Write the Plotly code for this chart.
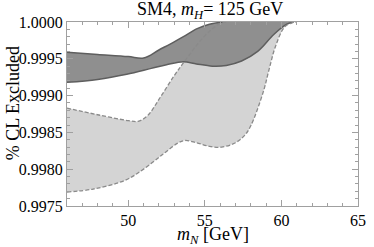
import plotly.graph_objects as go

# Data
dark_upper_x = [46, 48, 50, 51.0, 52.0, 53.0, 53.6, 54.5, 55.3, 56.2]
dark_upper_y = [0.99959, 0.99956, 0.99953, 0.99951, 0.99962, 0.99973, 0.99980, 0.99991, 0.99997, 1.0]

dark_lower_x = [46, 48, 49.9, 51.5, 52.5, 53.6, 54.45, 55.5, 56.4, 57.4, 58.45, 59.5, 60.35, 60.8]
dark_lower_y = [0.99918, 0.99922, 0.99929, 0.99937, 0.99942, 0.99946, 0.99943, 0.99940, 0.99941, 0.99947, 0.99960, 0.99983, 0.99997, 1.0]

light_upper_x = [46, 48, 50.0, 50.64, 51.27, 52.1, 53.0, 53.62, 54.9, 55.9, 56.5]
light_upper_y = [0.99883, 0.99874, 0.99866, 0.99865, 0.99873, 0.99898, 0.99927, 0.99945, 0.99979, 0.99997, 1.0]

light_lower_x = [46, 47.7, 49.8, 51.06, 52.3, 53.2, 53.7, 54.45, 55.3, 56.1, 57.0, 57.6, 58.0, 58.8, 59.2, 59.6, 60.2, 60.7, 61.0]
light_lower_y = [0.99769, 0.99773, 0.99785, 0.99801, 0.99821, 0.99835, 0.99839, 0.99836, 0.99831, 0.99830, 0.99836, 0.99846, 0.99859, 0.99904, 0.99936, 0.99966, 0.99993, 0.99999, 1.0]

x_ticks = [50, 55, 60, 65]
y_ticks = [0.9975, 0.9980, 0.9985, 0.9990, 0.9995, 1.0000]

DARK_FILL = "#8f8f8f"
DARK_EDGE = "#5e5e5e"
LIGHT_FILL = "#d4d4d4"
LIGHT_EDGE = "#8a8a8a"
FRAME = "#a0a0a0"
FONT = "Liberation Serif"

fig = go.Figure()
# light band fill
fig.add_trace(go.Scatter(x=light_lower_x, y=light_lower_y, mode="lines",
                         line=dict(width=0, shape="spline", color=LIGHT_FILL), hoverinfo="skip"))
fig.add_trace(go.Scatter(x=light_upper_x, y=light_upper_y, mode="lines", fill="tonexty",
                         fillcolor=LIGHT_FILL,
                         line=dict(width=0, shape="spline", color=LIGHT_FILL), hoverinfo="skip"))
# dark band fill
fig.add_trace(go.Scatter(x=dark_lower_x, y=dark_lower_y, mode="lines",
                         line=dict(width=0, shape="spline", color=DARK_FILL), hoverinfo="skip"))
fig.add_trace(go.Scatter(x=dark_upper_x, y=dark_upper_y, mode="lines", fill="tonexty",
                         fillcolor=DARK_FILL,
                         line=dict(width=0, shape="spline", color=DARK_FILL), hoverinfo="skip"))
# edges
for xs, ys in [(dark_lower_x, dark_lower_y), (dark_upper_x, dark_upper_y)]:
    fig.add_trace(go.Scatter(x=xs, y=ys, mode="lines",
                             line=dict(width=1.5, shape="spline", color=DARK_EDGE)))
for xs, ys in [(light_lower_x, light_lower_y), (light_upper_x, light_upper_y)]:
    fig.add_trace(go.Scatter(x=xs, y=ys, mode="lines",
                             line=dict(width=1.3, shape="spline", color=LIGHT_EDGE, dash="4px,2px")))

fig.update_layout(
    width=374, height=247,
    margin=dict(l=67, r=8, t=22, b=41),
    paper_bgcolor="white", plot_bgcolor="white",
    showlegend=False,
    font=dict(family=FONT, size=16, color="black"),
    annotations=[
        dict(text="SM4, <i>m</i><sub><i>H</i></sub>= 125 GeV", xref="paper", yref="paper",
             x=0.492, y=1.062, xanchor="center", yanchor="middle", showarrow=False,
             font=dict(family=FONT, size=18, color="black")),
        dict(text="<i>m</i><sub><i>N</i></sub> [GeV]", xref="paper", yref="paper",
             x=0.5, y=-0.158, xanchor="center", yanchor="middle", showarrow=False,
             font=dict(family=FONT, size=18, color="black")),
        dict(text="% CL Excluded", xref="paper", yref="paper", textangle=-90,
             x=-0.185, y=0.559, xanchor="center", yanchor="middle", showarrow=False,
             font=dict(family=FONT, size=18, color="black")),
    ],
)
fig.update_xaxes(
    range=[46, 65], tickvals=x_ticks, ticktext=[str(v) for v in x_ticks],
    showgrid=False, zeroline=False, showline=True, linecolor=FRAME, linewidth=1,
    mirror="ticks", ticks="inside", ticklen=6, tickcolor=FRAME,
    minor=dict(dtick=1, ticks="inside", ticklen=3, tickcolor=FRAME, showgrid=False),
    tickfont=dict(family=FONT, size=16), ticklabeloverflow="allow",
)
fig.update_yaxes(
    range=[0.9975, 1.0], tickvals=y_ticks, ticktext=[f"{v:.4f}" for v in y_ticks],
    showgrid=False, zeroline=False, showline=True, linecolor=FRAME, linewidth=1,
    mirror="ticks", ticks="inside", ticklen=6, tickcolor=FRAME,
    minor=dict(dtick=0.0001, ticks="inside", ticklen=3, tickcolor=FRAME, showgrid=False),
    tickfont=dict(family=FONT, size=16),
)

fig.write_html("out.html", config={"displayModeBar": False},
               post_script="document.body.style.margin='0';document.body.style.padding='0';")
